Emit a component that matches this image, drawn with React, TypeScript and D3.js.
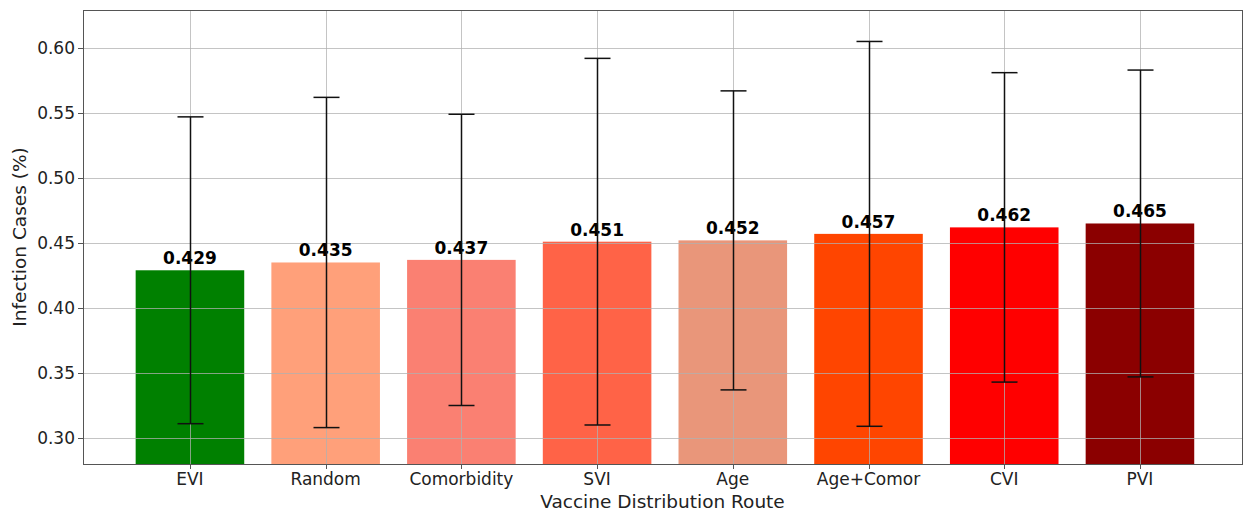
import React from "react";
import * as d3 from "d3";

const routes = ["EVI", "Random", "Comorbidity", "SVI", "Age", "Age+Comor", "CVI", "PVI"];
const meanCases = [0.429, 0.435, 0.437, 0.451, 0.452, 0.457, 0.462, 0.465];
const errorHalf = [0.118, 0.127, 0.112, 0.141, 0.115, 0.148, 0.119, 0.118];
const barColors = ["#008000", "#FFA07A", "#FA8072", "#FF6347", "#E9967A", "#FF4500", "#FF0000", "#8B0000"];
const yTicks = [0.3, 0.35, 0.4, 0.45, 0.5, 0.55, 0.6];

const W = 1251;
const H = 518;
const left = 83;
const right = 1242;
const top = 10;
const bottom = 464;
const FONT = "DejaVu Sans, sans-serif";

export default function App() {
  const x = d3.scaleLinear().domain([-0.788, 7.752]).range([left, right]);
  const y = d3.scaleLinear().domain([0.28, 0.6292]).range([bottom, top]);
  const bw = x(0.8) - x(0);
  const cap = 13;

  return (
    <svg width={W} height={H} style={{ position: "absolute", left: 0, top: 0, background: "#fff" }}>
      {routes.map((r, i) => (
        <rect
          key={r}
          x={x(i) - bw / 2}
          y={y(meanCases[i])}
          width={bw}
          height={bottom - y(meanCases[i])}
          fill={barColors[i]}
        />
      ))}
      {/* grid */}
      <g stroke="#b0b0b0" strokeOpacity={0.75} strokeWidth={1}>
        {yTicks.map((t) => (
          <line key={t} x1={left} x2={right} y1={Math.round(y(t)) + 0.5} y2={Math.round(y(t)) + 0.5} />
        ))}
        {routes.map((r, i) => (
          <line key={r} x1={Math.round(x(i)) + 0.5} x2={Math.round(x(i)) + 0.5} y1={top} y2={bottom} />
        ))}
      </g>
      {/* value labels */}
      {routes.map((r, i) => (
        <text
          key={r}
          x={x(i)}
          y={y(meanCases[i]) - 6}
          textAnchor="middle"
          fontFamily={FONT}
          fontWeight="bold"
          fontSize={17}
          fill="#000"
        >
          {meanCases[i].toFixed(3)}
        </text>
      ))}
      {/* error bars */}
      <g stroke="#111" strokeWidth={1.5}>
        {routes.map((r, i) => {
          const cx = Math.round(x(i)) + 0.5;
          const y1 = y(meanCases[i] + errorHalf[i]);
          const y2 = y(meanCases[i] - errorHalf[i]);
          return (
            <g key={r}>
              <line x1={cx} x2={cx} y1={y1} y2={y2} />
              <line x1={cx - cap} x2={cx + cap} y1={y1} y2={y1} />
              <line x1={cx - cap} x2={cx + cap} y1={y2} y2={y2} />
            </g>
          );
        })}
      </g>
      {/* frame */}
      <rect x={left + 0.5} y={top + 0.5} width={right - left} height={bottom - top} fill="none" stroke="#555" strokeWidth={1} />
      {/* y axis */}
      {yTicks.map((t) => (
        <g key={t}>
          <line x1={left - 5} x2={left} y1={Math.round(y(t)) + 0.5} y2={Math.round(y(t)) + 0.5} stroke="#555" />
          <text x={left - 8} y={y(t)} dy="0.35em" textAnchor="end" fontFamily={FONT} fontSize={17} fill="#222">
            {t.toFixed(2)}
          </text>
        </g>
      ))}
      {/* x axis */}
      {routes.map((r, i) => (
        <g key={r}>
          <line x1={Math.round(x(i)) + 0.5} x2={Math.round(x(i)) + 0.5} y1={bottom} y2={bottom + 5} stroke="#555" />
          <text x={x(i)} y={bottom + 21} textAnchor="middle" fontFamily={FONT} fontSize={17} fill="#222">
            {r}
          </text>
        </g>
      ))}
      <text x={(left + right) / 2} y={508} textAnchor="middle" fontFamily={FONT} fontSize={18.5} fill="#222">
        Vaccine Distribution Route
      </text>
      <text
        transform={`translate(26, ${(top + bottom) / 2}) rotate(-90)`}
        textAnchor="middle"
        fontFamily={FONT}
        fontSize={18.5}
        fill="#222"
      >
        Infection Cases (%)
      </text>
    </svg>
  );
}
